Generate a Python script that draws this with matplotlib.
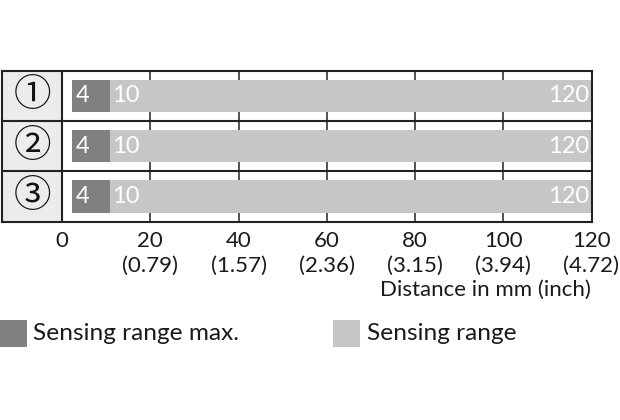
import matplotlib
matplotlib.use("Agg")
import matplotlib.pyplot as plt
import matplotlib.transforms as mtransforms
from matplotlib.patches import Rectangle

plt.rcParams['font.family'] = ['Lato', 'DejaVu Sans']

# data
rows = ['①', '②', '③']
max_start = [2.2, 2.2, 2.2]      # dark bar (sensing range max.) as drawn
max_end = [10.8, 10.8, 10.8]
range_end = [120, 120, 120]      # light bar (sensing range)
label_min = ['4', '4', '4']
label_mid = ['10', '10', '10']
label_max = ['120', '120', '120']
ticks_mm = [0, 20, 40, 60, 80, 100, 120]
ticks_inch = ['', '(0.79)', '(1.57)', '(2.36)', '(3.15)', '(3.94)', '(4.72)']

dark = '#808080'
light = '#c6c6c6'
fs = 16

fig = plt.figure(figsize=(6.2, 4.2), dpi=100)
W, H = 620, 420
ax = fig.add_axes([2 / W, 1 - 221.7 / H, (591.5 - 2) / W, (221.7 - 70.7) / H])

xmin = -60 / 4.4125
ax.set_xlim(xmin, 120)
ax.set_ylim(len(rows), 0)

# grid lines behind bars
for t in ticks_mm[1:-1]:
    ax.axvline(t, color='#333333', lw=1.2, zorder=0)

for i, r in enumerate(rows):
    y = i + 0.5
    ax.barh(y, range_end[i] - max_start[i], left=max_start[i], height=0.64, color=light, zorder=2)
    ax.barh(y, max_end[i] - max_start[i], left=max_start[i], height=0.64, color=dark, zorder=3)
    ax.text(max_start[i] + 0.9, y, label_min[i], color='white', fontsize=17, va='center', ha='left', zorder=4)
    ax.text(max_end[i] + 0.6, y, label_mid[i], color='white', fontsize=17, va='center', ha='left', zorder=4)
    ax.text(range_end[i] - 0.6, y, label_max[i], color='white', fontsize=17, va='center', ha='right', zorder=4)
    # label column
    ax.add_patch(Rectangle((xmin, i), -xmin, 1, facecolor='#ececec', edgecolor='none', zorder=1))
    ax.text(xmin / 2, y, r, fontsize=27, ha='center', va='center', zorder=4, color='#111111',
            family=['Noto Sans CJK JP', 'DejaVu Sans'])
    if i > 0:
        ax.axhline(i, color='#222222', lw=1.5, zorder=5)

ax.axvline(0, color='#222222', lw=1.5, zorder=5)
for s in ax.spines.values():
    s.set_color('#222222')
    s.set_linewidth(1.5)
    s.set_zorder(6)
ax.set_xticks([])
ax.set_yticks([])

# tick labels below
tr = mtransforms.blended_transform_factory(ax.transData, fig.transFigure)
for t, inch in zip(ticks_mm, ticks_inch):
    ax.text(t, 1 - 241 / H, str(t), transform=tr, ha='center', va='center', fontsize=fs, color='#1a1a1a')
    if inch:
        ax.text(t, 1 - 266 / H, inch, transform=tr, ha='center', va='center', fontsize=fs, color='#1a1a1a')
fig.text(591 / W, 1 - 290 / H, 'Distance in mm (inch)', ha='right', va='center', fontsize=fs, color='#1a1a1a')

# legend
fig.patches.append(Rectangle((0, 1 - 347 / H), 27 / W, 27 / H, transform=fig.transFigure, facecolor=dark, edgecolor='none'))
fig.text(33 / W, 1 - 333 / H, 'Sensing range max.', ha='left', va='center', fontsize=17.6, color='#1a1a1a')
fig.patches.append(Rectangle((333 / W, 1 - 347 / H), 27 / W, 27 / H, transform=fig.transFigure, facecolor=light, edgecolor='none'))
fig.text(367 / W, 1 - 333 / H, 'Sensing range', ha='left', va='center', fontsize=17.6, color='#1a1a1a')

fig.savefig('out.png', dpi=100, facecolor='white')
